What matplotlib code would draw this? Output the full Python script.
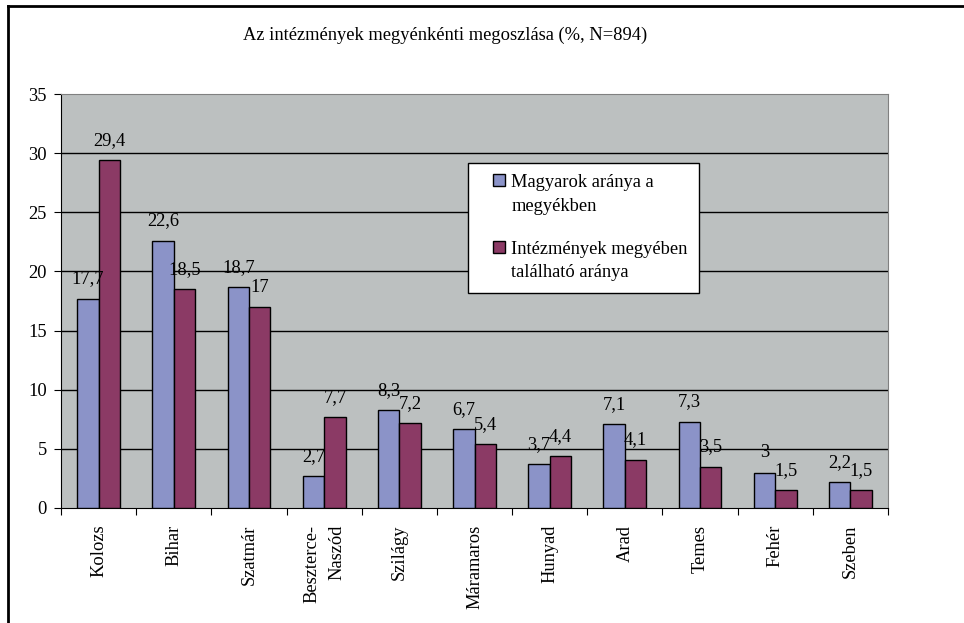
import numpy as np
import matplotlib.pyplot as plt
from matplotlib.patches import Patch, Rectangle
from matplotlib.lines import Line2D
from matplotlib.legend_handler import HandlerPatch

plt.rcParams['font.family'] = ['Liberation Serif', 'DejaVu Serif']

megyek = ["Kolozs", "Bihar", "Szatmár", "Beszterce-\nNaszód", "Szilágy", "Máramaros",
          "Hunyad", "Arad", "Temes", "Fehér", "Szeben"]
magyarok = [17.7, 22.6, 18.7, 2.7, 8.3, 6.7, 3.7, 7.1, 7.3, 3, 2.2]
intezmenyek = [29.4, 18.5, 17, 7.7, 7.2, 5.4, 4.4, 4.1, 3.5, 1.5, 1.5]
yticks = [0, 5, 10, 15, 20, 25, 30, 35]

blue = "#8b93c8"
purple = "#8b3a65"
bg = "#bcc0c0"
fs = 13.3


def fmt(v):
    return f"{v:g}".replace(".", ",")


class TopSquare(HandlerPatch):
    # small square at the right end of the handle box, level with the first text line
    def create_artists(self, legend, orig_handle, xdescent, ydescent, width, height, fontsize, trans):
        s = height
        p = Rectangle((width - s - xdescent, -ydescent + 0.78 * fontsize), s, s,
                      facecolor=orig_handle.get_facecolor(), edgecolor="black", linewidth=1)
        p.set_transform(trans)
        return [p]


fig = plt.figure(figsize=(9.64, 6.23), dpi=100)
ax = fig.add_axes([61 / 964, 1 - 508 / 623, (888 - 61) / 964, (508 - 94) / 623])
ax.set_facecolor(bg)

x = np.arange(len(megyek))
w = 0.285
b1 = ax.bar(x - w / 2, magyarok, w, color=blue, edgecolor="black", linewidth=1, zorder=3)
b2 = ax.bar(x + w / 2, intezmenyek, w, color=purple, edgecolor="black", linewidth=1, zorder=3)

for bars, vals in ((b1, magyarok), (b2, intezmenyek)):
    for r, v in zip(bars, vals):
        ax.annotate(fmt(v), (r.get_x() + r.get_width() / 2, v), xytext=(0, 8),
                    textcoords="offset points", ha="center", va="bottom", fontsize=fs)

ax.set_xlim(-0.5, len(megyek) - 0.5)
ax.set_ylim(0, 35)
ax.set_yticks(yticks)
ax.set_yticklabels([str(t) for t in yticks], fontsize=fs)
for t in yticks[1:-1]:
    ax.axhline(t, color="black", linewidth=1, zorder=1)

ax.set_xticks(np.arange(len(megyek) + 1) - 0.5)
ax.set_xticklabels([])
ax.set_xticks(x, minor=True)
ax.set_xticklabels(megyek, minor=True, rotation=90, fontsize=fs, va="top", ha="center",
                   linespacing=1.6, multialignment="right")
ax.tick_params(axis="x", which="major", length=5, direction="out", color="black")
ax.tick_params(axis="x", which="minor", length=0, pad=12)
ax.tick_params(axis="y", length=5, direction="out", color="black", pad=5)

for s in ("top", "right"):
    ax.spines[s].set_color("#808080")
for s in ("left", "bottom"):
    ax.spines[s].set_color("black")

fig.text(445 / 964, 1 - 35 / 623, "Az intézmények megyénkénti megoszlása (%, N=894)",
         ha="center", va="center", fontsize=fs)

handles = [Patch(facecolor=blue, edgecolor="black", label="Magyarok aránya a\nmegyékben"),
           Patch(facecolor=purple, edgecolor="black", label="Intézmények megyében\ntalálható aránya")]
leg = fig.legend(handles=handles, loc="upper left", bbox_to_anchor=(468 / 964, 1 - 163 / 623),
                 fontsize=fs, frameon=True, fancybox=False, edgecolor="black",
                 handlelength=1.42, handleheight=0.65, handletextpad=0.33, labelspacing=1.4,
                 borderpad=0.6, borderaxespad=0,
                 handler_map={Patch: TopSquare()})
leg.get_frame().set_linewidth(1)
leg.get_frame().set_facecolor("white")
leg.get_frame().set_alpha(1)
for t in leg.get_texts():
    t.set_linespacing(1.52)

yt = 1 - 6 / 623
fig.add_artist(Line2D([8 / 964, 8 / 964], [0, yt], color="black", linewidth=2, transform=fig.transFigure))
fig.add_artist(Line2D([8 / 964, 1], [yt, yt], color="black", linewidth=2, transform=fig.transFigure))

fig.savefig("out.png", dpi=100)
